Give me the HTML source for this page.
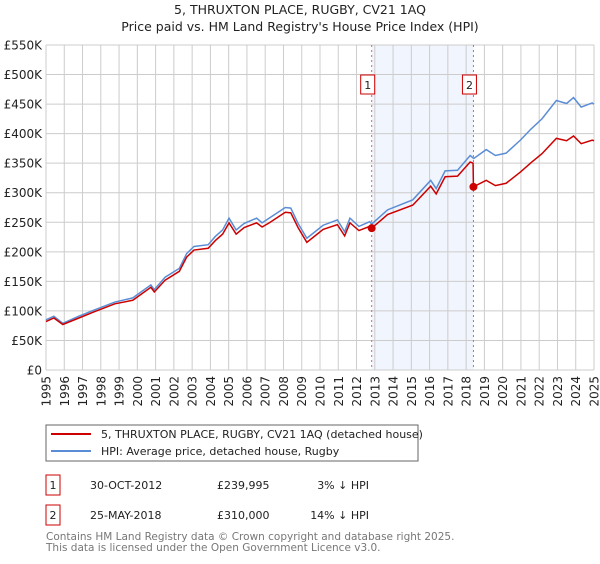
<!DOCTYPE html>
<html><head><meta charset="utf-8"><style>
body{margin:0;background:#fff;font-family:"DejaVu Sans","Liberation Sans",sans-serif;}
</style></head><body>
<svg width="600" height="560" viewBox="0 0 600 560" xmlns="http://www.w3.org/2000/svg" font-family="DejaVu Sans, Liberation Sans, sans-serif">
<text x="300" y="14" text-anchor="middle" font-size="12.5" fill="#222">5, THRUXTON PLACE, RUGBY, CV21 1AQ</text>
<text x="300" y="31" text-anchor="middle" font-size="12.5" fill="#222">Price paid vs. HM Land Registry's House Price Index (HPI)</text>
<g id="grid"></g>
<g id="marks"></g>
<g id="axes"></g>
<g>
<rect x="46" y="425" width="372" height="36" fill="#fff" stroke="#666"/>
<line x1="51" y1="434" x2="91" y2="434" stroke="#cc0000" stroke-width="2"/>
<text x="101" y="438" font-size="11" fill="#222">5, THRUXTON PLACE, RUGBY, CV21 1AQ (detached house)</text>
<line x1="51" y1="451" x2="91" y2="451" stroke="#5b8dd6" stroke-width="2"/>
<text x="101" y="455" font-size="11" fill="#222">HPI: Average price, detached house, Rugby</text>
</g>
<g font-size="11" fill="#222">
<rect x="46" y="475" width="14" height="20" fill="#fff" stroke="#cc0000"/>
<text x="53" y="489" text-anchor="middle">1</text>
<text x="90" y="489">30-OCT-2012</text>
<text x="217" y="489">£239,995</text>
<text x="369" y="489" text-anchor="end">3% ↓ HPI</text>
<rect x="46" y="505" width="14" height="20" fill="#fff" stroke="#cc0000"/>
<text x="53" y="519" text-anchor="middle">2</text>
<text x="90" y="519">25-MAY-2018</text>
<text x="217" y="519">£310,000</text>
<text x="369" y="519" text-anchor="end">14% ↓ HPI</text>
</g>
<text x="46" y="540" font-size="10.5" fill="#777">Contains HM Land Registry data © Crown copyright and database right 2025.</text>
<text x="46" y="551" font-size="10.5" fill="#777">This data is licensed under the Open Government Licence v3.0.</text>
</svg>
<script>
const hpiYears=[1995.0,1995.43,1995.92,1996.8,1997.6,1998.77,1999.75,2000.74,2000.93,2001.52,2002.3,2002.7,2003.1,2003.88,2004.27,2004.67,2005.02,2005.41,2005.85,2006.53,2006.83,2007.22,2008.1,2008.4,2008.8,2009.28,2010.17,2010.95,2011.35,2011.64,2012.13,2012.72,2012.83,2013.7,2015.08,2016.06,2016.36,2016.85,2017.53,2018.22,2018.42,2019.1,2019.6,2020.19,2020.97,2021.56,2022.15,2022.94,2023.5,2023.88,2024.3,2024.9,2025.0];
const hpiValues=[85,91,79,91,101,115,122,144,136,157,172,197,209,212,226,237,257,237,248,257,249,257,275,274,248,223,245,254,234,257,243,251,247,271,288,321,307,337,338,363,358,373,363,367,389,408,425,456,451,461,445,452,450];
const priceYears=[1995.0,1995.43,1995.92,1996.8,1997.6,1998.77,1999.75,2000.74,2000.93,2001.52,2002.3,2002.7,2003.1,2003.88,2004.27,2004.67,2005.02,2005.41,2005.85,2006.53,2006.83,2007.22,2008.1,2008.4,2008.8,2009.28,2010.17,2010.95,2011.35,2011.64,2012.13,2012.72,2012.83,2013.7,2015.08,2016.06,2016.36,2016.85,2017.53,2018.22,2018.38,2018.4,2019.1,2019.6,2020.19,2020.97,2021.56,2022.15,2022.94,2023.5,2023.88,2024.3,2024.9,2025.0];
const priceValues=[82,88,77,88,98,112,118,140,132,152,167,191,203,206,219,230,249,230,241,249,242,249,267,266,241,216,238,246,227,249,236,243,240,263,279,311,298,327,328,352,350,310,321,312,316,335,351,366,392,388,396,383,389,388];
const saleYears=[2012.83,2018.4];
const saleValues=[240,310];
const saleLabels=["1","2"];
const yTicks=[0,50,100,150,200,250,300,350,400,450,500,550];
const yTickLabels=["£0","£50K","£100K","£150K","£200K","£250K","£300K","£350K","£400K","£450K","£500K","£550K"];
const xTicks=[1995,1996,1997,1998,1999,2000,2001,2002,2003,2004,2005,2006,2007,2008,2009,2010,2011,2012,2013,2014,2015,2016,2017,2018,2019,2020,2021,2022,2023,2024,2025];

const NS="http://www.w3.org/2000/svg";
const X0=46,X1=594,Y0=370,Y1=45;
const xs=y=>X0+(y-1995)/30*(X1-X0);
const ys=v=>Y0-v/550*(Y0-Y1);
function mk(tag,attrs,parent){const e=document.createElementNS(NS,tag);for(const k in attrs)e.setAttribute(k,attrs[k]);parent.appendChild(e);return e;}
const grid=document.getElementById('grid'),marks=document.getElementById('marks'),axes=document.getElementById('axes');
// shaded region
const sh=mk('rect',{x:xs(saleYears[0]),y:Y1,width:xs(saleYears[1])-xs(saleYears[0]),height:Y0-Y1,fill:'#eef3fc',opacity:0.8},grid);


yTicks.forEach((t,i)=>{
 const l=mk('line',{x1:X0,x2:X1,y1:ys(t),y2:ys(t),stroke:'#cccccc','stroke-width':1},grid);
 
 
 const tx=mk('text',{x:X0-4,y:ys(t)+4.5,'text-anchor':'end','font-size':12,fill:'#222'},axes);
 tx.textContent=yTickLabels[i];
 
 
});
xTicks.forEach(t=>{
 const l=mk('line',{x1:xs(t),x2:xs(t),y1:Y1,y2:Y0,stroke:'#cccccc','stroke-width':1},grid);
 
 
 const tx=mk('text',{x:0,y:0,'text-anchor':'end','font-size':12,fill:'#222',transform:`translate(${xs(t)+4.5},376) rotate(-90)`},axes);
 tx.textContent=t;
 
 
});
saleYears.forEach((y,i)=>{
 const l=mk('line',{x1:xs(y),x2:xs(y),y1:Y1,y2:Y0,stroke:'#e06070','stroke-width':1,'stroke-dasharray':'2,3'},grid);
 
 
 const b=mk('rect',{x:xs(y)-11,y:75,width:14,height:19,fill:'#fff',stroke:'#cc0000'},axes);
 
 
 const t=mk('text',{x:xs(y)-4,y:89,'text-anchor':'middle','font-size':11,fill:'#222'},axes);
 t.textContent=saleLabels[i];
 
 
});
const hp=mk('polyline',{points:hpiYears.map((y,i)=>xs(y)+','+ys(hpiValues[i])).join(' '),fill:'none',stroke:'#5b8dd6','stroke-width':1.5},marks);


const pp=mk('polyline',{points:priceYears.map((y,i)=>xs(y)+','+ys(priceValues[i])).join(' '),fill:'none',stroke:'#cc0000','stroke-width':1.5},marks);


saleYears.forEach((y,i)=>{
 const c=mk('circle',{cx:xs(y),cy:ys(saleValues[i]),r:4,fill:'#cc0000'},marks);
 
 
});
</script>
</body></html>
